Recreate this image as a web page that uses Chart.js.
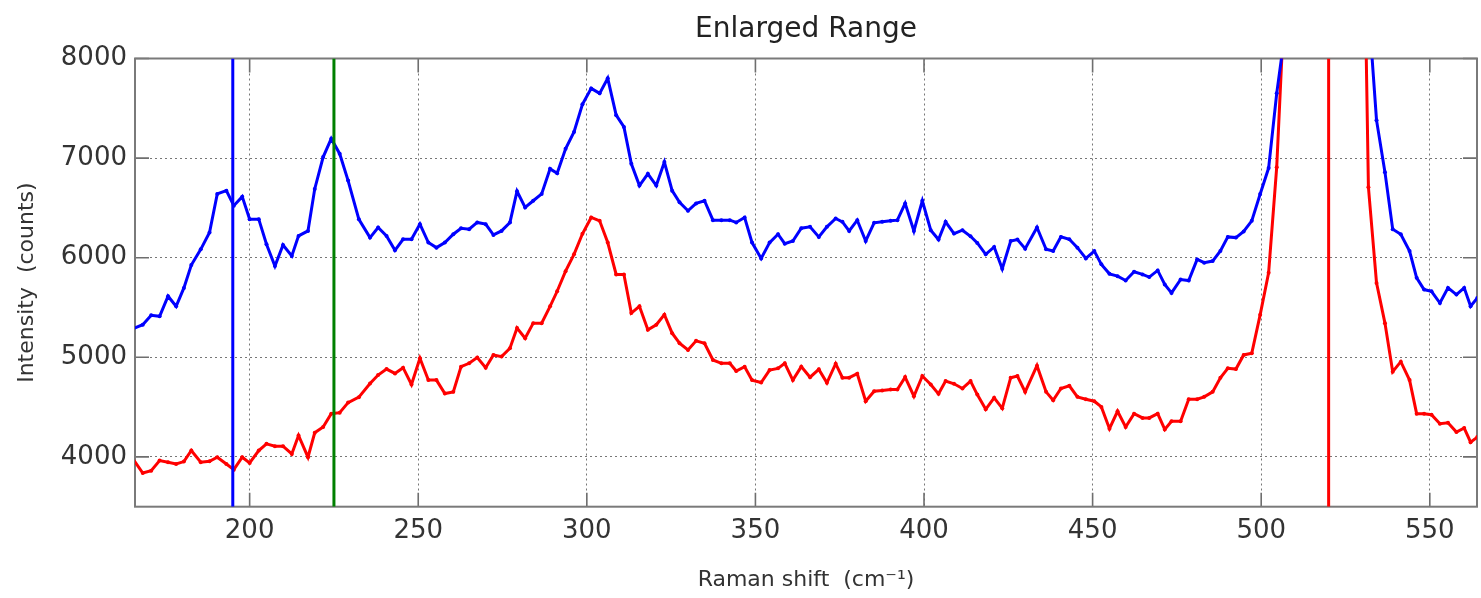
<!DOCTYPE html>
<html>
<head>
<meta charset="utf-8">
<title>Enlarged Range</title>
<script src="https://cdn.jsdelivr.net/npm/chart.js@4.4.1/dist/chart.umd.min.js"></script>
<style>
  html, body { margin: 0; padding: 0; background: #fff; }
</style>
</head>
<body>
<canvas id="ramanChart" width="1481" height="598"></canvas>
<script>
'use strict';

// Raman shift (cm-1) of each sample point
const shift = [
  165.4, 168.3, 170.8, 173.3, 175.8, 178.2, 180.5, 182.7, 185.5, 188.1,
  190.4, 193.1, 195.3, 197.8, 200.0, 202.7, 205.0, 207.5, 209.9, 212.5,
  214.5, 217.3, 219.3, 221.8, 224.2, 226.7, 229.2, 232.4, 235.7, 238.1,
  240.6, 243.1, 245.5, 248.0, 250.5, 253.0, 255.4, 257.9, 260.4, 262.7,
  265.1, 267.5, 270.0, 272.3, 274.7, 277.2, 279.3, 281.7, 284.1, 286.6,
  289.1, 291.2, 293.7, 296.2, 298.7, 301.3, 303.8, 306.2, 308.7, 311.0,
  313.2, 315.6, 318.1, 320.6, 323.0, 325.3, 327.5, 330.0, 332.4, 334.9,
  337.4, 339.9, 342.4, 344.3, 346.8, 349.0, 351.7, 354.2, 356.7, 358.7,
  361.1, 363.6, 366.2, 368.8, 371.2, 373.8, 375.8, 377.8, 380.2, 382.7,
  385.2, 387.6, 390.1, 392.1, 394.4, 397.0, 399.5, 402.0, 404.3, 406.4,
  408.9, 411.4, 413.8, 415.8, 418.3, 420.8, 423.2, 425.7, 427.7, 430.0,
  433.5, 436.2, 438.3, 440.6, 443.1, 445.5, 448.0, 450.5, 452.6, 455.0,
  457.4, 459.8, 462.3, 464.8, 466.8, 469.3, 471.4, 473.4, 476.1, 478.5,
  481.0, 483.1, 485.6, 487.9, 490.1, 492.5, 494.8, 497.2, 499.7, 502.2,
  504.6, 507.0, 509.4, 511.8, 514.2, 516.6, 519.0, 521.5, 524.0, 526.5,
  529.2, 531.8, 534.2, 536.7, 539.0, 541.4, 544.0, 546.1, 548.3, 550.5,
  553.0, 555.4, 557.9, 560.2, 562.1, 564.1
];

// upper (blue) spectrum, counts
const blueCounts = [
  5286, 5327, 5421, 5411, 5613, 5512, 5697, 5926, 6084, 6253,
  6640, 6673, 6522, 6613, 6387, 6387, 6135, 5916, 6128, 6017,
  6219, 6269, 6690, 7010, 7195, 7044, 6774, 6385, 6202, 6303,
  6219, 6074, 6185, 6185, 6337, 6152, 6101, 6152, 6236, 6296,
  6286, 6354, 6337, 6229, 6269, 6354, 6667, 6505, 6572, 6640,
  6892, 6848, 7094, 7263, 7540, 7700, 7650, 7801, 7431, 7313,
  6943, 6724, 6842, 6724, 6960, 6673, 6556, 6471, 6545, 6572,
  6377, 6377, 6377, 6354, 6404, 6152, 5993, 6152, 6236, 6141,
  6168, 6296, 6310, 6209, 6310, 6394, 6360, 6269, 6377, 6168,
  6350, 6360, 6370, 6377, 6545, 6269, 6572, 6276, 6182, 6360,
  6242, 6276, 6215, 6148, 6034, 6108, 5889, 6168, 6182, 6091,
  6303, 6084, 6067, 6209, 6185, 6101, 5993, 6067, 5933, 5838,
  5815, 5771, 5859, 5832, 5805, 5872, 5731, 5646, 5781, 5771,
  5983, 5950, 5966, 6067, 6209, 6202, 6263, 6370, 6640, 6900,
  7650, 8250, 9500, 12000, 17000, 26000, 34000, 30000, 20000, 13000,
  10000, 8520, 7381, 6859, 6286, 6236, 6067, 5798, 5680, 5663,
  5545, 5697, 5630, 5697, 5512, 5596
];

// lower (red) spectrum, counts
const redCounts = [
  3980, 3838, 3862, 3963, 3946, 3929, 3953, 4064, 3946, 3956,
  3997, 3929, 3872, 3997, 3939, 4064, 4131, 4108, 4108, 4030,
  4215, 3997, 4242, 4300, 4434, 4444, 4545, 4600, 4737, 4822,
  4882, 4838, 4896, 4727, 4990, 4771, 4771, 4636, 4653, 4906,
  4940, 4997, 4896, 5024, 5007, 5091, 5293, 5192, 5343, 5343,
  5512, 5663, 5865, 6034, 6240, 6404, 6370, 6152, 5832, 5832,
  5444, 5512, 5276, 5327, 5428, 5242, 5141, 5074, 5165, 5141,
  4973, 4940, 4940, 4862, 4906, 4771, 4747, 4872, 4889, 4940,
  4771, 4906, 4800, 4879, 4744, 4936, 4795, 4795, 4835, 4559,
  4660, 4667, 4677, 4677, 4801, 4609, 4812, 4727, 4633, 4761,
  4734, 4687, 4761, 4626, 4478, 4593, 4488, 4795, 4812, 4653,
  4916, 4653, 4569, 4687, 4714, 4603, 4579, 4559, 4502, 4283,
  4458, 4300, 4434, 4391, 4391, 4434, 4276, 4357, 4357, 4579,
  4579, 4603, 4653, 4795, 4889, 4882, 5024, 5040, 5428, 5849,
  6909, 8650, 12000, 20000, 35000, 60000, 80000, 70000, 40000, 20000,
  12000, 6707, 5747, 5343, 4855, 4956, 4771, 4434, 4434, 4424,
  4333, 4343, 4249, 4290, 4148, 4199
];

// vertical reference lines
const markerShifts = [195, 225, 520];
const markerColors = ['#0000ff', '#008000', '#ff0000'];

const xTicks = [200, 250, 300, 350, 400, 450, 500, 550];
const yTicks = [4000, 5000, 6000, 7000, 8000];
const xRange = [166, 564];
const yRange = [3500, 8000];

const fontFamily = '"DejaVu Sans", sans-serif';

const toPoints = function (values) {
  return shift.map((x, i) => ({ x: x, y: values[i] }));
};

// box round the plot and the small inward tick marks
const boxPlugin = {
  id: 'axesBox',
  beforeDatasetsDraw(chart) {
    const { ctx, chartArea: a, scales } = chart;
    const len = 14;
    ctx.save();
    ctx.strokeStyle = '#6e6e6e';
    ctx.lineWidth = 1.6;
    ctx.beginPath();
    xTicks.forEach(v => {
      const px = scales.x.getPixelForValue(v);
      ctx.moveTo(px, a.bottom);
      ctx.lineTo(px, a.bottom - len);
      ctx.moveTo(px, a.top);
      ctx.lineTo(px, a.top + len);
    });
    yTicks.forEach(v => {
      const py = scales.y.getPixelForValue(v);
      ctx.moveTo(a.left, py);
      ctx.lineTo(a.left + len, py);
      ctx.moveTo(a.right, py);
      ctx.lineTo(a.right - len, py);
    });
    ctx.stroke();
    ctx.strokeStyle = '#7a7a7a';
    ctx.lineWidth = 2;
    ctx.strokeRect(a.left, a.top, a.right - a.left, a.bottom - a.top);
    ctx.restore();
  }
};

const markerSets = markerShifts.map((x, i) => ({
  data: [{ x: x, y: yRange[0] }, { x: x, y: yRange[1] }],
  borderColor: markerColors[i],
  borderWidth: 3,
  pointRadius: 0,
}));

const gridOpts = {
  color: '#777',
  lineWidth: 1,
  drawTicks: false,
  borderDash: [2, 3],
};

const tickFont = { family: fontFamily, size: 26 };
const plainNumber = v => String(v);

new Chart(document.getElementById('ramanChart'), {
  type: 'line',
  data: {
    datasets: [
      ...markerSets,
      {
        data: toPoints(blueCounts),
        borderColor: '#0000ff',
        backgroundColor: '#0000ff',
        borderWidth: 3,
        pointRadius: 2,
        pointBorderWidth: 0,
      },
      {
        data: toPoints(redCounts),
        borderColor: '#ff0000',
        backgroundColor: '#ff0000',
        borderWidth: 3,
        pointRadius: 2,
        pointBorderWidth: 0,
      },
    ],
  },
  options: {
    responsive: false,
    animation: false,
    layout: { padding: { left: 0, right: 3, top: 0, bottom: 0 } },
    plugins: {
      legend: { display: false },
      tooltip: { enabled: false },
      title: { display: false },
    },
    scales: {
      x: {
        type: 'linear',
        position: 'bottom',
        min: xRange[0],
        max: xRange[1],
        afterBuildTicks: scale => { scale.ticks = xTicks.map(v => ({ value: v })); },
        afterFit: scale => { scale.height = 91.3; },
        grid: gridOpts,
        border: { display: false, dash: [2, 3] },
        ticks: {
          padding: 9,
          color: '#333',
          font: tickFont,
          maxRotation: 0,
          callback: plainNumber,
        },
        title: {
          display: true,
          text: 'Raman shift  (cm\u207B\u00B9)',
          color: '#333',
          font: { family: fontFamily, size: 22 },
          padding: { top: 0, bottom: 5 },
        },
      },
      xTop: {
        type: 'linear',
        position: 'top',
        min: xRange[0],
        max: xRange[1],
        afterFit: scale => { scale.height = 58.5; },
        grid: { display: false, drawTicks: false },
        border: { display: false },
        ticks: { display: false },
        title: {
          display: true,
          text: 'Enlarged Range',
          color: '#222',
          font: { family: fontFamily, size: 28 },
          padding: { top: 13, bottom: 0 },
        },
      },
      y: {
        type: 'linear',
        min: yRange[0],
        max: yRange[1],
        afterBuildTicks: scale => { scale.ticks = yTicks.map(v => ({ value: v })); },
        afterFit: scale => { scale.width = 135; },
        grid: gridOpts,
        border: { display: false, dash: [2, 3] },
        ticks: {
          padding: 8,
          color: '#333',
          font: tickFont,
          callback: plainNumber,
        },
        title: {
          display: true,
          text: 'Intensity  (counts)',
          color: '#333',
          font: { family: fontFamily, size: 22 },
          padding: { top: 14, bottom: 0 },
        },
      },
    },
  },
  plugins: [boxPlugin],
});
</script>
</body>
</html>
